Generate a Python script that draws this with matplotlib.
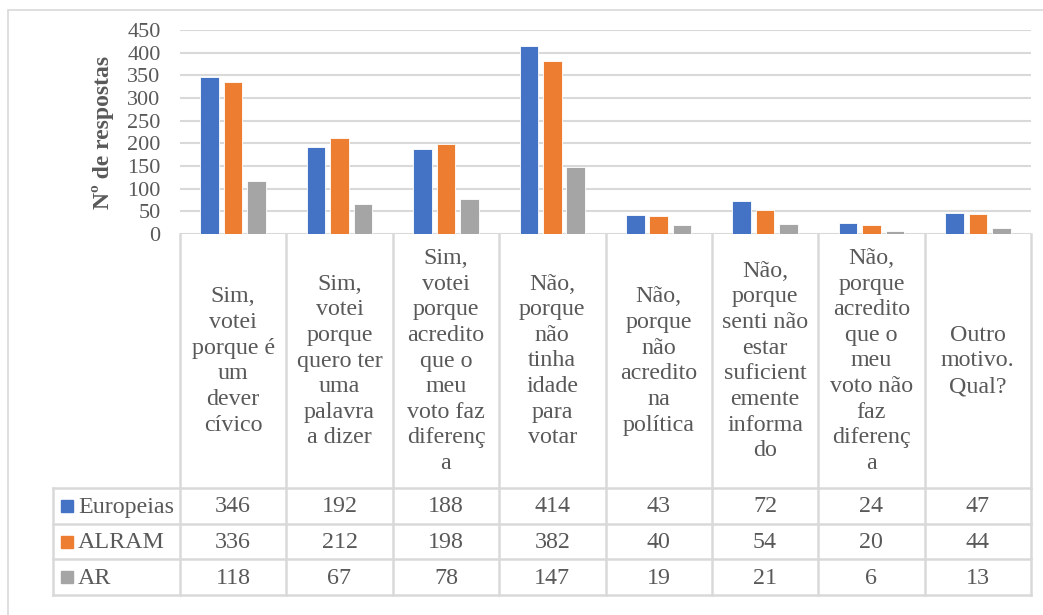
import matplotlib.pyplot as plt
import numpy as np
from matplotlib.patches import Rectangle

plt.rcParams['font.family'] = ['Liberation Serif', 'DejaVu Serif']

# data
categories = [
    'Sim,\nvotei\nporque é\num\ndever\ncívico',
    'Sim,\nvotei\nporque\nquero ter\numa\npalavra\na dizer',
    'Sim,\nvotei\nporque\nacredito\nque o\nmeu\nvoto faz\ndiferenç\na',
    'Não,\nporque\nnão\ntinha\nidade\npara\nvotar',
    'Não,\nporque\nnão\nacredito\nna\npolítica',
    'Não,\nporque\nsenti não\nestar\nsuficient\nemente\ninforma\ndo',
    'Não,\nporque\nacredito\nque o\nmeu\nvoto não\nfaz\ndiferenç\na',
    'Outro\nmotivo.\nQual?',
]
series = ['Europeias', 'ALRAM', 'AR']
europeias = [346, 192, 188, 414, 43, 72, 24, 47]
alram = [336, 212, 198, 382, 40, 54, 20, 44]
ar = [118, 67, 78, 147, 19, 21, 6, 13]
colors = ['#4472C4', '#ED7D31', '#A5A5A5']
yticks = [0, 50, 100, 150, 200, 250, 300, 350, 400, 450]

W, H = 1043, 615
txt = '#595959'
grid = '#D9D9D9'

fig = plt.figure(figsize=(W / 100, H / 100), dpi=100)

def px_axes(x0, y0, x1, y1):
    return fig.add_axes([x0 / W, 1 - y1 / H, (x1 - x0) / W, (y1 - y0) / H])

# outer chart border
fig.patches.append(Rectangle((8 / W, -0.1), 1.2, 1 - 10 / H + 0.1, transform=fig.transFigure,
                             fill=False, edgecolor=grid, lw=1.2))

# bar chart
ax = px_axes(180, 30, 1031, 234)
n = len(categories)
x = np.arange(n) + 0.5
bw = 0.175
step = 0.22
for i, (vals, c) in enumerate(zip([europeias, alram, ar], colors)):
    ax.bar(x + (i - 1) * step, vals, width=bw, color=c, edgecolor='white', linewidth=0.6, zorder=3)
ax.set_xlim(0, n)
ax.set_ylim(0, 450)
ax.set_yticks(yticks)
ax.set_yticklabels([str(v) for v in yticks], fontsize=16, color=txt)
ax.tick_params(axis='y', length=0, pad=14)
ax.set_xticks([])
ax.grid(axis='y', color=grid, lw=1.5, zorder=0)
for s in ax.spines.values():
    s.set_visible(False)
fig.text(103 / W, 1 - 132 / H, 'Nº de respostas', rotation=90, ha='center', va='center',
         fontsize=17, fontweight='bold', color=txt)

# data table
tb = px_axes(180, 234, 1031, 595)
tb.set_xlim(0, n)
tb.set_ylim(595, 234)
tb.axis('off')
left = (53 - 180) / ((1031 - 180) / n)
rows = [488, 524, 559, 595]
lk = dict(color=grid, lw=1.8, clip_on=False)
for i in range(n + 1):
    tb.plot([i, i], [234, 595], **lk)
tb.plot([left, left], [rows[0], 595], **lk)
for r in rows:
    tb.plot([left, n], [r, r], **lk)

for i, lab in enumerate(categories):
    tb.text(i + 0.5, (234 + rows[0]) / 2, lab, ha='center', va='center', fontsize=17.3,
            color=txt, linespacing=1.29)

kw = (1031 - 180) / n
for j, (name, vals, c) in enumerate(zip(series, [europeias, alram, ar], colors)):
    yc = (rows[j] + rows[j + 1]) / 2
    tb.add_patch(Rectangle((left + 8 / kw, yc - 6), 12 / kw, 12, color=c, clip_on=False))
    tb.text(left + 25 / kw, yc + 1, name, ha='left', va='center', fontsize=17.3, color=txt)
    for i, v in enumerate(vals):
        tb.text(i + 0.5, yc + 1, str(v), ha='center', va='center', fontsize=17.3, color=txt)

fig.savefig('out.png', dpi=100)
